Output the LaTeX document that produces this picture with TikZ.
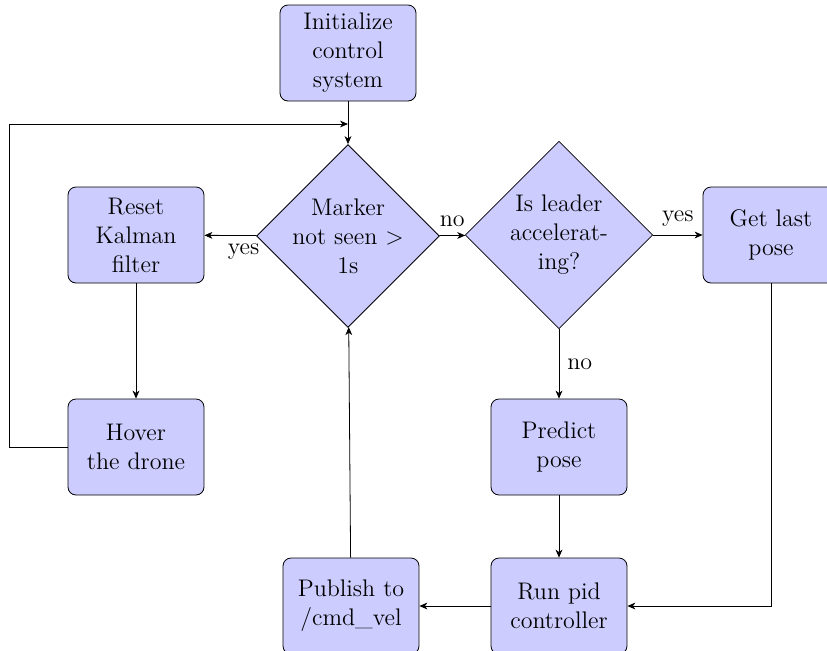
\documentclass[tikz,border=0pt,12pt]{standalone}
\usetikzlibrary{shapes.geometric,arrows.meta}
\begin{document}
\begin{tikzpicture}[x=0.5pt,y=-0.5pt,
  block/.style={rectangle, draw, fill=blue!20, text width=5em, align=center,
                rounded corners, minimum height=4em},
  decision/.style={diamond, draw, fill=blue!20, text width=4.5em, align=center,
                   inner sep=0pt},
  line/.style={draw, -{Stealth[length=4pt, width=3.4pt, inset=1.2pt]}}]
  \clip (0,0) rectangle (827,650);
  \useasboundingbox (0,0) rectangle (827,650);

  % process steps and decisions
  \node[block]    (init)    at (348,53)  {Initialize control system};
  \node[decision] (marker)  at (348,236) {Marker\\ \makebox[\linewidth]{not seen >}\\ 1s};
  \node[decision] (leader)  at (559,235) {Is leader\\ accelerat-\\ ing?};
  \node[block]    (getpose) at (771,235) {Get last pose};
  \node[block]    (reset)   at (136,235) {Reset Kalman filter};
  \node[block]    (hover)   at (136,447) {Hover the drone};
  \node[block]    (predict) at (559,447) {Predict pose};
  \node[block]    (runpid)  at (559,606) {Run pid controller};
  \node[block]    (publish) at (351,606) {Publish to /cmd\_vel};

  % return path of the hover loop
  \coordinate (loopcorner) at (9,124);
  \coordinate (loopend)    at (348,124);

  % connectors
  \draw[line] (init) -- (marker);
  \draw[line] (marker) -- node[below, near start] {yes} (reset);
  \draw[line] (marker) -- node[above] {no} (leader);
  \draw[line] (leader) -- node[above] {yes} (getpose);
  \draw[line] (leader) -- node[right] {no} (predict);
  \draw[line] (reset) -- (hover);
  \draw[line] (hover.west) -| (loopcorner) -- (loopend);
  \draw[line] (predict) -- (runpid);
  \draw[line] (getpose) |- (runpid);
  \draw[line] (runpid) -- (publish);
  \draw[line] (publish) -- (marker);
\end{tikzpicture}
\end{document}
